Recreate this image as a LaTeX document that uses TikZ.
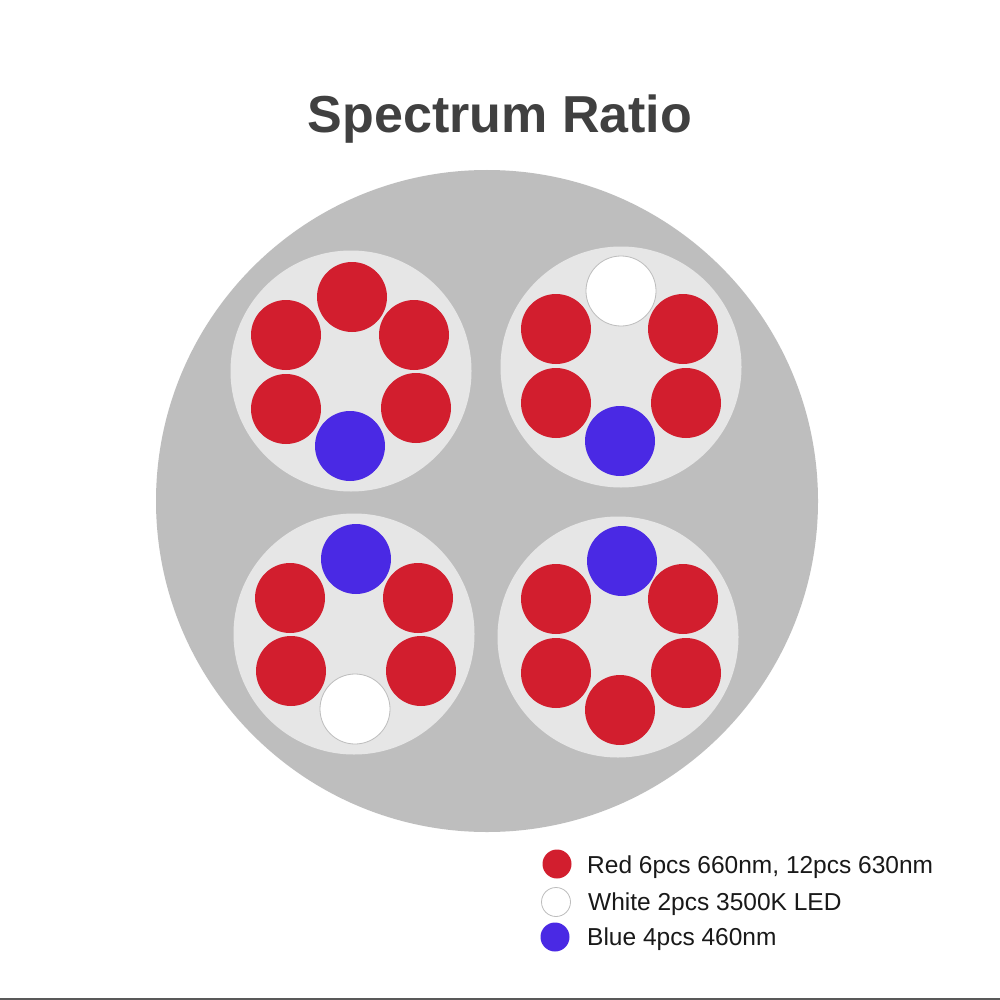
\documentclass[tikz,border=0pt]{standalone}
\usepackage{fontspec}
\setmainfont{Liberation Sans}
\usepackage{tikz}
\usetikzlibrary{positioning}

\definecolor{ledred}{HTML}{D21E2E}
\definecolor{ledblue}{HTML}{4A29E4}
\definecolor{podgray}{HTML}{E6E6E6}
\definecolor{housinggray}{HTML}{BEBEBE}
\definecolor{rimgray}{HTML}{BDBDBD}
\definecolor{titlegray}{HTML}{404040}

\tikzset{
  led/.style={circle, inner sep=0pt, minimum size=70pt},
  redled/.style={led, fill=ledred},
  blueled/.style={led, fill=ledblue},
  whiteled/.style={led, fill=white, draw=rimgray, line width=0.8pt},
  pod/.style={circle, inner sep=0pt, minimum size=241pt, fill=podgray},
  keydot/.style={circle, inner sep=0pt, minimum size=29pt},
  keytext/.style={anchor=base west, inner sep=0pt, font=\fontsize{24.5}{28}\selectfont, text=black!90}
}

\begin{document}
\begin{tikzpicture}[x=1pt, y=-1pt]
                \useasboundingbox [fill=white] (0,0) rectangle (1000,1000);
                \node [font=\fontsize{52}{60}\selectfont\bfseries, text=titlegray, anchor=base] (title) at (500,133) {Spectrum Ratio};
                \node [circle, inner sep=0pt, minimum size=662pt, fill=housinggray] (housing) at (487,501) {};
                % four pods
                \node [pod] (podTL) at (351,371) {};
                \node [pod] (podTR) at (621,367) {};
                \node [pod] (podBL) at (354,634) {};
                \node [pod] (podBR) at (618,637) {};
                % top left
                \node [redled] (tl1) at (352,297) {};
                \node [redled] (tl2) at (286,335) {};
                \node [redled] (tl3) at (414,335) {};
                \node [redled] (tl4) at (286,409) {};
                \node [redled] (tl5) at (416,408) {};
                \node [blueled] (tl6) at (350,446) {};
                % top right
                \node [whiteled] (tr1) at (621,291) {};
                \node [redled] (tr2) at (556,329) {};
                \node [redled] (tr3) at (683,329) {};
                \node [redled] (tr4) at (556,403) {};
                \node [redled] (tr5) at (686,403) {};
                \node [blueled] (tr6) at (620,441) {};
                % bottom left
                \node [blueled] (bl1) at (356,559) {};
                \node [redled] (bl2) at (290,598) {};
                \node [redled] (bl3) at (418,598) {};
                \node [redled] (bl4) at (291,671) {};
                \node [redled] (bl5) at (421,671) {};
                \node [whiteled] (bl6) at (355,709) {};
                % bottom right
                \node [blueled] (br1) at (622,561) {};
                \node [redled] (br2) at (556,599) {};
                \node [redled] (br3) at (683,599) {};
                \node [redled] (br4) at (556,673) {};
                \node [redled] (br5) at (686,673) {};
                \node [redled] (br6) at (620,710) {};
                % key
                \node [keydot, fill=ledred] (keyred) at (557,864) {};
                \node [keydot, fill=white, draw=rimgray, line width=0.8pt] (keywhite) at (556,902) {};
                \node [keydot, fill=ledblue] (keyblue) at (555,937) {};
                \node [keytext] (txtred) at (587,873) {Red 6pcs 660nm, 12pcs 630nm};
                \node [keytext] (txtwhite) at (588,910) {White 2pcs 3500K LED};
                \node [keytext] (txtblue) at (587,945) {Blue 4pcs 460nm};
                \draw [line width=2.5pt, black!65] (0,999) -- (1000,999);
            \end{tikzpicture}
\end{document}
